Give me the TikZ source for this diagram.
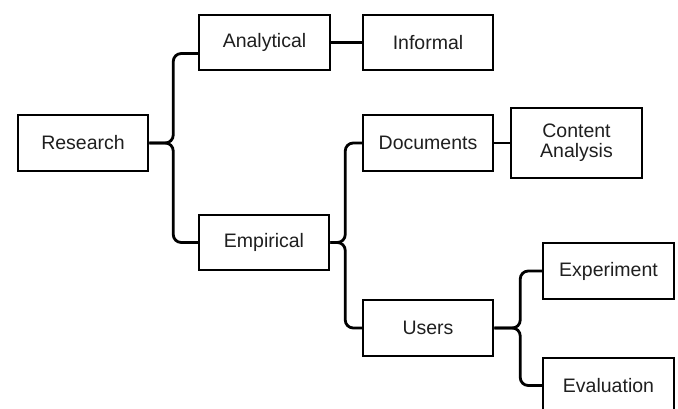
\documentclass[tikz,border=0pt]{standalone}
\usepackage{fontspec}
\setmainfont{Liberation Sans}
\begin{document}
\begin{tikzpicture}[x=1pt,y=-1pt,
  box/.style={draw=black, line width=2pt, fill=white, minimum width=130.5pt, minimum height=55.5pt, inner sep=0pt, font=\fontsize{19.5}{20}\selectfont, text=black!88, align=center},
  conn/.style={draw=black, line width=2.8pt, rounded corners=8pt}]
\useasboundingbox (0,0) rectangle (678,409);
\begin{scope}
\clip (0,0) rectangle (678,409);
\node[box] (research) at (83,143) {Research};
\node[box] (analytical) at (264.5,42.5) {Analytical};
\node[box] (informal) at (428,42.5) {Informal};
\node[box] (empirical) at (264,242.5) {Empirical};
\node[box] (documents) at (428,143) {Documents};
\node[box, minimum height=70pt] (content) at (576.5,143) {Content\\Analysis};
\node[box] (users) at (428,328) {Users};
\node[box] (experiment) at (608.5,271) {Experiment};
\node[box] (evaluation) at (608.5,385.5) {Evaluation};

\draw[conn] (research.east) -- ++(24,0) |- ([yshift=-11pt]analytical.west);
\draw[conn] (research.east) -- ++(24,0) |- (empirical.west);
\draw[conn, rounded corners=0pt] (analytical.east) -- (informal.west);
\draw[conn] (empirical.east) -- ++(15,0) |- (documents.west);
\draw[conn] (empirical.east) -- ++(15,0) |- (users.west);
\draw[conn, rounded corners=0pt] (documents.east) -- (content.west);
\draw[conn] (users.east) -- ++(26,0) |- (experiment.west);
\draw[conn] (users.east) -- ++(26,0) |- (evaluation.west);
\end{scope}
\end{tikzpicture}
\end{document}
